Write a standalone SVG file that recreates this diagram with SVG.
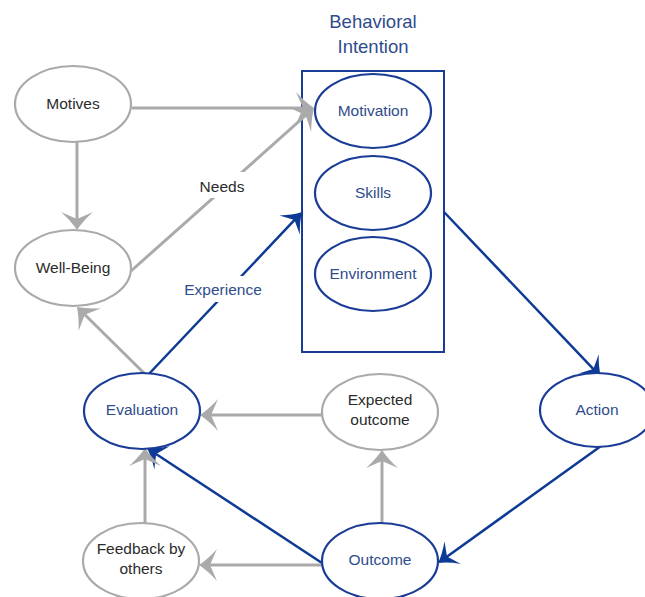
<svg xmlns="http://www.w3.org/2000/svg" width="645" height="597" viewBox="0 0 645 597">
  <style>
    .gray { fill: #ffffff; stroke: #aaaaaa; stroke-width: 2.2; }
    .blue { fill: #ffffff; stroke: #1a3c96; stroke-width: 2.2; }
    .box { fill: none; stroke: #1a3c96; stroke-width: 2; }
    .lg { fill: none; stroke: #aaaaaa; stroke-width: 3; }
    .lb { fill: none; stroke: #0d3a94; stroke-width: 2.5; }
    text { font-family: "Liberation Sans", Arial, sans-serif; font-size: 15.5px; text-anchor: middle; }
    .tk { fill: #2b2b2b; }
    .tb { fill: #2f4c8c; }
    .title { fill: #2f4c8c; font-size: 18.5px; }
  </style>
  <defs>
    <marker id="ag" markerUnits="userSpaceOnUse" markerWidth="40" markerHeight="40" viewBox="-20 -20 40 40" refX="-4" refY="0" orient="auto" overflow="visible">
      <path d="M0,0 Q-9,-6 -18,-16 L-11,0 L-18,16 Q-9,6 0,0 Z" fill="#aaaaaa"/>
    </marker>
    <marker id="ab" markerUnits="userSpaceOnUse" markerWidth="40" markerHeight="40" viewBox="-20 -20 40 40" refX="-4" refY="0" orient="auto" overflow="visible">
      <path d="M0,0 Q-9,-5 -18,-14 L-11,0 L-18,14 Q-9,5 0,0 Z" fill="#0d3a94"/>
    </marker>
  </defs>

  <!-- Behavioral intention container -->
  <g id="behavioral-intention">
    <text class="title" x="373" y="28">Behavioral</text>
    <text class="title" x="373" y="53">Intention</text>
    <rect class="box" x="302" y="71" width="142" height="281"/>
  </g>

  <!-- connectors -->
  <g id="connectors">
    <line class="lg" x1="132" y1="108" x2="310" y2="108" marker-end="url(#ag)"/>
    <line class="lg" x1="77" y1="142" x2="77" y2="226" marker-end="url(#ag)"/>
    <line class="lg" x1="131" y1="271" x2="311" y2="110.7" marker-end="url(#ag)"/>
    <line class="lg" x1="147" y1="376" x2="79.8" y2="309.8" marker-end="url(#ag)"/>
    <line class="lb" x1="147" y1="376" x2="299.3" y2="214.9" marker-end="url(#ab)"/>
    <line class="lb" x1="444" y1="212" x2="598.2" y2="374.1" marker-end="url(#ab)"/>
    <line class="lb" x1="601" y1="446" x2="441.3" y2="560.7" marker-end="url(#ab)"/>
    <line class="lb" x1="322" y1="563" x2="150.3" y2="450.2" marker-end="url(#ab)"/>
    <line class="lg" x1="382" y1="523" x2="382" y2="454" marker-end="url(#ag)"/>
    <line class="lg" x1="322" y1="415" x2="204" y2="415" marker-end="url(#ag)"/>
    <line class="lg" x1="322" y1="565" x2="203" y2="565" marker-end="url(#ag)"/>
    <line class="lg" x1="145" y1="523" x2="145" y2="452" marker-end="url(#ag)"/>
    <!-- edge labels -->
    <rect x="195" y="172" width="54" height="26" fill="#ffffff"/>
    <text class="tk" x="222" y="192">Needs</text>
    <rect x="178" y="276" width="90" height="26" fill="#ffffff"/>
    <text class="tb" x="223" y="295">Experience</text>
  </g>

  <g id="motives">
    <ellipse class="gray" cx="73" cy="104" rx="58" ry="38"/>
    <text class="tk" x="73" y="109">Motives</text>
  </g>
  <g id="well-being">
    <ellipse class="gray" cx="73" cy="268" rx="58" ry="38"/>
    <text class="tk" x="73" y="273">Well-Being</text>
  </g>
  <g id="motivation">
    <ellipse class="blue" cx="373" cy="111" rx="58" ry="37"/>
    <text class="tb" x="373" y="116">Motivation</text>
  </g>
  <g id="skills">
    <ellipse class="blue" cx="373" cy="193" rx="58" ry="37"/>
    <text class="tb" x="373" y="198">Skills</text>
  </g>
  <g id="environment">
    <ellipse class="blue" cx="373" cy="274" rx="58" ry="37"/>
    <text class="tb" x="373" y="279">Environment</text>
  </g>
  <g id="action">
    <ellipse class="blue" cx="597" cy="410" rx="57" ry="37"/>
    <text class="tb" x="597" y="415">Action</text>
  </g>
  <g id="evaluation">
    <ellipse class="blue" cx="142" cy="411" rx="58" ry="38"/>
    <text class="tb" x="142" y="415">Evaluation</text>
  </g>
  <g id="expected-outcome">
    <ellipse class="gray" cx="380" cy="412" rx="58" ry="38"/>
    <text class="tk" x="380" y="405">Expected</text>
    <text class="tk" x="380" y="425">outcome</text>
  </g>
  <g id="feedback">
    <ellipse class="gray" cx="141" cy="561" rx="58" ry="38"/>
    <text class="tk" x="141" y="554">Feedback by</text>
    <text class="tk" x="141" y="574">others</text>
  </g>
  <g id="outcome">
    <ellipse class="blue" cx="380" cy="561" rx="58" ry="38"/>
    <text class="tb" x="380" y="565">Outcome</text>
  </g>
</svg>
